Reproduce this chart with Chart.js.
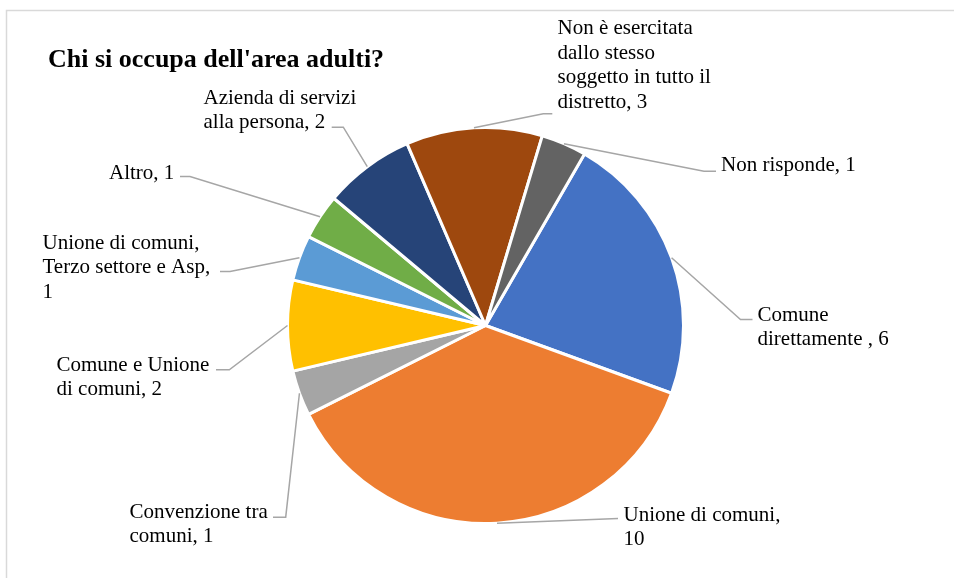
<!DOCTYPE html>
<html>
<head>
<meta charset="utf-8">
<script src="https://cdn.jsdelivr.net/npm/chart.js@4"></script>
<style>
  html, body { margin: 0; padding: 0; background: #fff; }
  #wrap { position: relative; width: 954px; height: 578px; }
</style>
</head>
<body>
<div id="wrap"><canvas id="pie"></canvas></div>
<script>
// dati
const categories = [
    'Comune direttamente ',
    'Unione di comuni',
    'Convenzione tra comuni',
    'Comune e Unione di comuni',
    'Unione di comuni, Terzo settore e Asp',
    'Altro',
    'Azienda di servizi alla persona',
    'Non è esercitata dallo stesso soggetto in tutto il distretto',
    'Non risponde'
];
const values = [6, 10, 1, 2, 1, 1, 2, 3, 1];
const sliceColors = ['#4472C4', '#ED7D31', '#A5A5A5', '#FFC000', '#5B9BD5', '#70AD47', '#264478', '#9E480E', '#636363'];
const chartTitle = "Chi si occupa dell'area adulti?";

// posizione etichette (offset dal centro della torta)
// tx/ty: testo, ex/ey: fine linea guida, elbow: tratto orizzontale, wrap: larghezza max
const labelLayout = [
    { tx: 272, ty: -5, ex: 267, ey: -6, elbow: -12, wrap: 140 },
    { tx: 138, ty: 195, ex: 132.5, ey: 193, elbow: 0, wrap: 165 },
    { tx: -356, ty: 192, ex: -212.5, ey: 191.7, elbow: 12.7, wrap: 145 },
    { tx: -429, ty: 45, ex: -269.5, ey: 44.3, elbow: 13.3, wrap: 160 },
    { tx: -443, ty: -77, ex: -265.5, ey: -54, elbow: 10, wrap: 175 },
    { tx: -376.5, ty: -147, ex: -305.5, ey: -149, elbow: 10, wrap: 200 },
    { tx: -282, ty: -222, ex: -153.8, ey: -198.3, elbow: 11.6, wrap: 160 },
    { tx: 72, ty: -291.5, ex: 66.8, ey: -211.7, elbow: -9, wrap: 160 },
    { tx: 235.5, ty: -154.3, ex: 230.5, ey: -154.3, elbow: -12, wrap: 200 }
];

const labelFont = '21px "Liberation Serif", "Times New Roman", serif';
const lineHeight = 24.5;

function wrapText(ctx, text, maxWidth) {
    const words = text.split(' ');
    const lines = [];
    let cur = '';
    words.forEach(w => {
        const test = cur ? cur + ' ' + w : w;
        if (cur && ctx.measureText(test).width > maxWidth) {
            lines.push(cur);
            cur = w;
        } else {
            cur = test;
        }
    });
    if (cur) lines.push(cur);
    return lines;
}

// cornice, titolo, etichette e linee guida
const pieLabels = {
    id: 'pieLabels',
    beforeDraw(chart) {
        const ctx = chart.ctx;
        ctx.save();
        ctx.strokeStyle = '#d9d9d9';
        ctx.lineWidth = 1.5;
        ctx.beginPath();
        ctx.moveTo(6.5, 578);
        ctx.lineTo(6.5, 10.5);
        ctx.lineTo(954, 10.5);
        ctx.stroke();
        ctx.restore();
    },
    afterDraw(chart) {
        const ctx = chart.ctx;
        const meta = chart.getDatasetMeta(0);
        ctx.save();

        ctx.fillStyle = '#000';
        ctx.font = 'bold 26px "Liberation Serif", "Times New Roman", serif';
        ctx.textBaseline = 'alphabetic';
        ctx.fillText(chartTitle, 48, 66.5);

        meta.data.forEach((arc, i) => {
            const p = arc.getProps(['x', 'y', 'startAngle', 'endAngle', 'outerRadius'], true);
            const mid = (p.startAngle + p.endAngle) / 2;
            const sx = p.x + Math.cos(mid) * p.outerRadius;
            const sy = p.y + Math.sin(mid) * p.outerRadius;
            const lay = labelLayout[i];
            const endX = p.x + lay.ex;
            const endY = p.y + lay.ey;
            const elbowX = endX + lay.elbow;

            ctx.strokeStyle = '#a6a6a6';
            ctx.lineWidth = 1.5;
            ctx.beginPath();
            ctx.moveTo(sx, sy);
            ctx.lineTo(elbowX, endY);
            ctx.lineTo(endX, endY);
            ctx.stroke();

            ctx.font = labelFont;
            ctx.fillStyle = '#000';
            const lines = wrapText(ctx, categories[i] + ', ' + values[i], lay.wrap);
            lines.forEach((ln, k) => {
                ctx.fillText(ln, p.x + lay.tx, p.y + lay.ty + k * lineHeight);
            });
        });
        ctx.restore();
    }
};

new Chart(document.getElementById('pie'), {
    type: 'pie',
    data: {
        labels: categories,
        datasets: [{
            data: values,
            backgroundColor: sliceColors,
            borderColor: '#ffffff',
            borderWidth: 3,
            hoverOffset: 0
        }]
    },
    options: {
        responsive: true,
        maintainAspectRatio: false,
        animation: false,
        events: [],
        rotation: 30,
        layout: {
            padding: { top: 126, bottom: 53, left: 286, right: 269 }
        },
        plugins: {
            legend: { display: false },
            title: { display: false },
            tooltip: { enabled: false }
        }
    },
    plugins: [pieLabels]
});
</script>
</body>
</html>
